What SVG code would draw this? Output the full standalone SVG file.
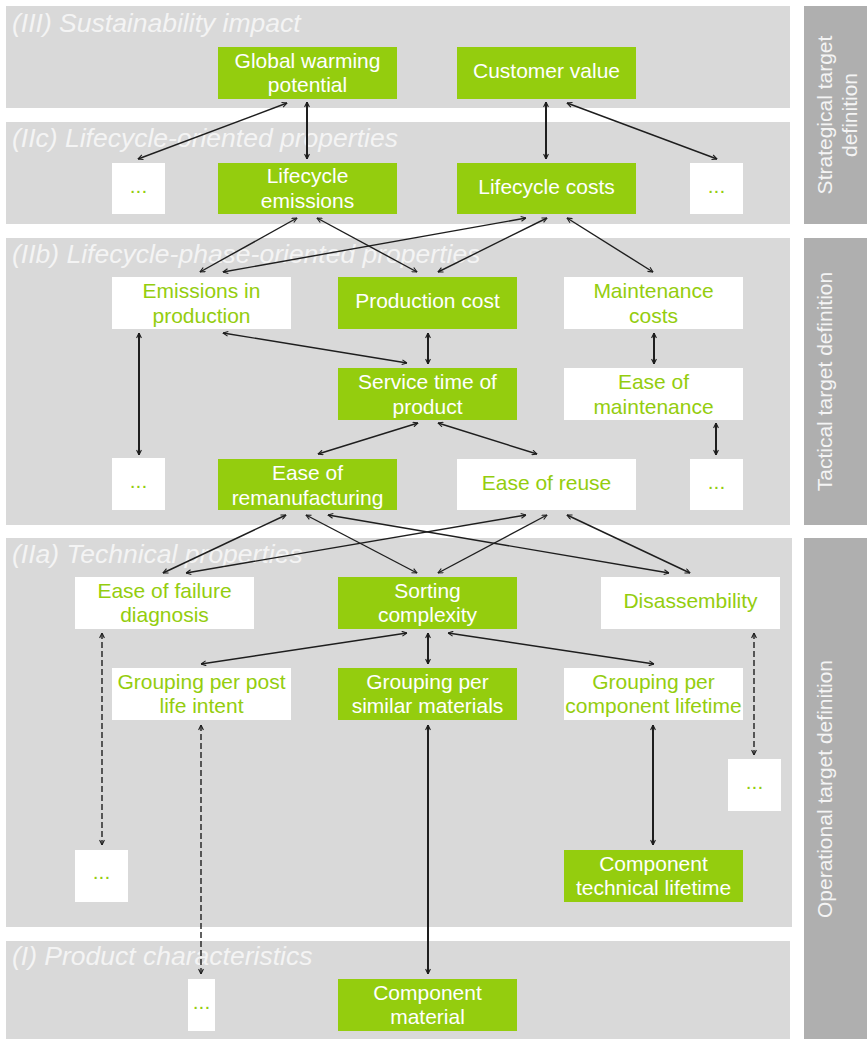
<svg xmlns="http://www.w3.org/2000/svg" width="867" height="1039" viewBox="0 0 867 1039">
<defs>
<style>
.band{fill:#d9d9d9}
.side{fill:#afafaf}
.title{font-family:"Liberation Sans",Arial,sans-serif;font-size:26.5px;font-style:italic;fill:#f4f4f4}
.sidet{font-family:"Liberation Sans",Arial,sans-serif;font-size:21px;fill:#f4f4f4;text-anchor:middle}
.g{fill:#94cd0e}
.w{fill:#ffffff}
.tg{font-family:"Liberation Sans",Arial,sans-serif;font-size:21px;fill:#ffffff;text-anchor:middle}
.tw{font-family:"Liberation Sans",Arial,sans-serif;font-size:21px;fill:#94cd0e;text-anchor:middle}
.c{stroke:#1e1e1e;stroke-width:1.4;fill:none;marker-start:url(#ah);marker-end:url(#ah)}
.v{stroke-width:2}
.d{stroke-dasharray:6,3}
</style>
<marker id="ah" viewBox="0 0 6 6" refX="5.6" refY="3" markerUnits="userSpaceOnUse" markerWidth="6" markerHeight="6" orient="auto-start-reverse">
<path d="M0.6,0.6 L5.6,3 L0.6,5.4" fill="none" stroke="#1e1e1e" stroke-width="1.1"/>
</marker>
</defs>
<g id="bands">
<rect class="band" x="6" y="6" width="784" height="102"/>
<rect class="band" x="6" y="122" width="784" height="102"/>
<rect class="band" x="6" y="238" width="784" height="287"/>
<rect class="band" x="6" y="538" width="786" height="389"/>
<rect class="band" x="6" y="941" width="784" height="98"/>
<rect class="side" x="804" y="6" width="63" height="218"/>
<rect class="side" x="804" y="238" width="63" height="287"/>
<rect class="side" x="804" y="538" width="63" height="501"/>
<text class="title" x="12" y="32">(III) Sustainability impact</text>
<text class="title" x="12" y="147">(IIc) Lifecycle-oriented properties</text>
<text class="title" x="12" y="263">(IIb) Lifecycle-phase-oriented properties</text>
<text class="title" x="12" y="563">(IIa) Technical properties</text>
<text class="title" x="12" y="965">(I) Product characteristics</text>
<text class="sidet" transform="translate(832,115) rotate(-90)">Strategical target</text>
<text class="sidet" transform="translate(857,115) rotate(-90)">definition</text>
<text class="sidet" transform="translate(832,381.5) rotate(-90)">Tactical target definition</text>
<text class="sidet" transform="translate(832,789) rotate(-90)">Operational target definition</text>
</g>
<g id="connectors">
<line class="c" x1="287" y1="103" x2="138" y2="159"/>
<line class="c v" x1="307" y1="102" x2="307" y2="159"/>
<line class="c v" x1="546" y1="102" x2="546" y2="159"/>
<line class="c" x1="567" y1="103" x2="717" y2="159"/>
<line class="c" x1="297" y1="218" x2="200" y2="272"/>
<line class="c" x1="317" y1="218" x2="417" y2="272"/>
<line class="c" x1="526" y1="218" x2="223" y2="272"/>
<line class="c" x1="547" y1="218" x2="438" y2="272"/>
<line class="c" x1="567" y1="218" x2="653" y2="272"/>
<line class="c v" x1="428" y1="333" x2="428" y2="364"/>
<line class="c" x1="223" y1="333" x2="407" y2="363"/>
<line class="c v" x1="654" y1="333" x2="654" y2="364"/>
<line class="c v" x1="139" y1="333" x2="139" y2="455"/>
<line class="c" x1="418" y1="423" x2="318" y2="454"/>
<line class="c" x1="438" y1="423" x2="537" y2="454"/>
<line class="c v" x1="716" y1="423" x2="716" y2="455"/>
<line class="c" x1="286" y1="515" x2="163" y2="573"/>
<line class="c" x1="306" y1="515" x2="417" y2="573"/>
<line class="c" x1="328" y1="515" x2="669" y2="573"/>
<line class="c" x1="526" y1="515" x2="186" y2="573"/>
<line class="c" x1="547" y1="515" x2="438" y2="573"/>
<line class="c" x1="567" y1="515" x2="690" y2="573"/>
<line class="c" x1="407" y1="633" x2="201" y2="664"/>
<line class="c v" x1="428" y1="633" x2="428" y2="664"/>
<line class="c" x1="448" y1="633" x2="654" y2="664"/>
<line class="c d" x1="102" y1="633" x2="102" y2="845"/>
<line class="c d" x1="201" y1="725" x2="201" y2="974"/>
<line class="c v" x1="428" y1="725" x2="428" y2="974"/>
<line class="c v" x1="653" y1="725" x2="653" y2="845"/>
<line class="c d" x1="754" y1="633" x2="754" y2="755"/>
</g>
<g id="n-gwp"><rect class="g" x="218" y="47" width="179" height="52"/><text class="tg" x="307.5" y="68">Global warming</text><text class="tg" x="307.5" y="92">potential</text></g>
<g id="n-cv"><rect class="g" x="457" y="47" width="179" height="52"/><text class="tg" x="546.5" y="78">Customer value</text></g>
<g id="n-iic-more1"><rect class="w" x="112" y="163" width="53" height="51"/><text class="tw" x="138.5" y="193">...</text></g>
<g id="n-le"><rect class="g" x="218" y="163" width="179" height="51"/><text class="tg" x="307.5" y="183">Lifecycle</text><text class="tg" x="307.5" y="208">emissions</text></g>
<g id="n-lc"><rect class="g" x="457" y="163" width="179" height="51"/><text class="tg" x="546.5" y="194">Lifecycle costs</text></g>
<g id="n-iic-more2"><rect class="w" x="690" y="163" width="53" height="51"/><text class="tw" x="716.5" y="193">...</text></g>
<g id="n-eip"><rect class="w" x="112" y="277" width="179" height="52"/><text class="tw" x="201.5" y="298">Emissions in</text><text class="tw" x="201.5" y="323">production</text></g>
<g id="n-pc"><rect class="g" x="338" y="277" width="179" height="52"/><text class="tg" x="427.5" y="308">Production cost</text></g>
<g id="n-mc"><rect class="w" x="564" y="277" width="179" height="52"/><text class="tw" x="653.5" y="298">Maintenance</text><text class="tw" x="653.5" y="323">costs</text></g>
<g id="n-stp"><rect class="g" x="338" y="368" width="179" height="52"/><text class="tg" x="427.5" y="389">Service time of</text><text class="tg" x="427.5" y="414">product</text></g>
<g id="n-eom"><rect class="w" x="564" y="368" width="179" height="52"/><text class="tw" x="653.5" y="389">Ease of</text><text class="tw" x="653.5" y="414">maintenance</text></g>
<g id="n-iib-more1"><rect class="w" x="112" y="458" width="53" height="52"/><text class="tw" x="138.5" y="488">...</text></g>
<g id="n-eorem"><rect class="g" x="218" y="459" width="179" height="51"/><text class="tg" x="307.5" y="480">Ease of</text><text class="tg" x="307.5" y="505">remanufacturing</text></g>
<g id="n-eoreu"><rect class="w" x="457" y="459" width="179" height="51"/><text class="tw" x="546.5" y="490">Ease of reuse</text></g>
<g id="n-iib-more2"><rect class="w" x="690" y="459" width="53" height="51"/><text class="tw" x="716.5" y="489">...</text></g>
<g id="n-efd"><rect class="w" x="75" y="577" width="179" height="52"/><text class="tw" x="164.5" y="598">Ease of failure</text><text class="tw" x="164.5" y="622">diagnosis</text></g>
<g id="n-sc"><rect class="g" x="338" y="577" width="179" height="52"/><text class="tg" x="427.5" y="598">Sorting</text><text class="tg" x="427.5" y="622">complexity</text></g>
<g id="n-dis"><rect class="w" x="601" y="577" width="179" height="52"/><text class="tw" x="690.5" y="608">Disassembility</text></g>
<g id="n-gpli"><rect class="w" x="112" y="668" width="179" height="52"/><text class="tw" x="201.5" y="689">Grouping per post</text><text class="tw" x="201.5" y="713">life intent</text></g>
<g id="n-gpsm"><rect class="g" x="338" y="668" width="179" height="52"/><text class="tg" x="427.5" y="689">Grouping per</text><text class="tg" x="427.5" y="713">similar materials</text></g>
<g id="n-gpcl"><rect class="w" x="564" y="668" width="179" height="52"/><text class="tw" x="653.5" y="689">Grouping per</text><text class="tw" x="653.5" y="713">component lifetime</text></g>
<g id="n-iia-more1"><rect class="w" x="728" y="759" width="53" height="52"/><text class="tw" x="754.5" y="789">...</text></g>
<g id="n-iia-more2"><rect class="w" x="75" y="850" width="53" height="52"/><text class="tw" x="101.5" y="879">...</text></g>
<g id="n-ctl"><rect class="g" x="564" y="850" width="179" height="52"/><text class="tg" x="653.5" y="871">Component</text><text class="tg" x="653.5" y="895">technical lifetime</text></g>
<g id="n-i-more"><rect class="w" x="188" y="979" width="27" height="52"/><text class="tw" x="201.5" y="1009">...</text></g>
<g id="n-cm"><rect class="g" x="338" y="979" width="179" height="52"/><text class="tg" x="427.5" y="1000">Component</text><text class="tg" x="427.5" y="1024">material</text></g>
</svg>
